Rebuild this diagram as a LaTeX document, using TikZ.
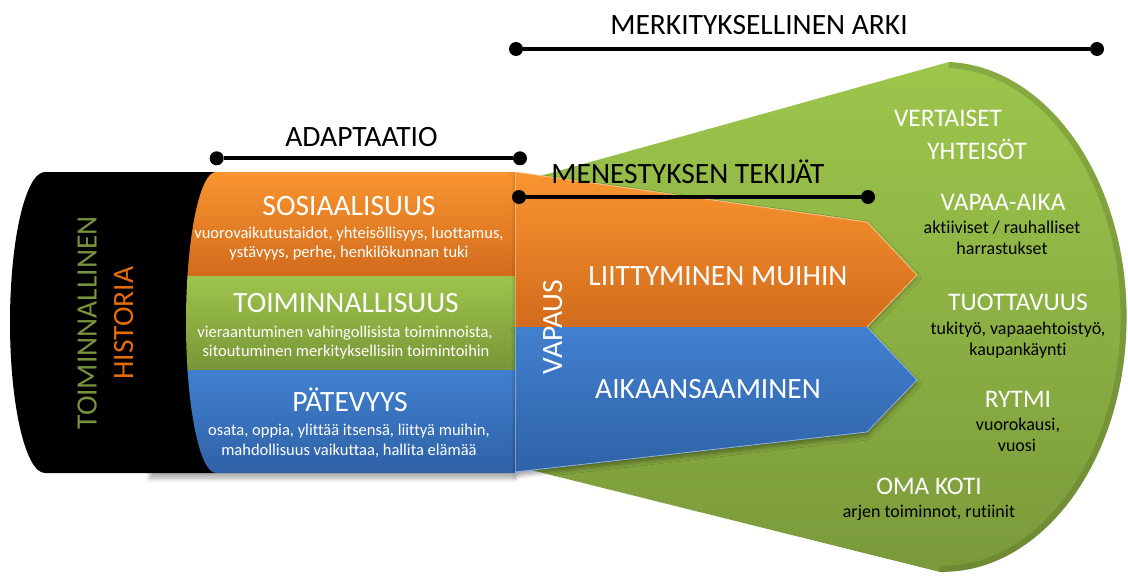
\documentclass[tikz,border=0pt]{standalone}
\usepackage{fontspec}
\setmainfont{Carlito}[RawFeature={-liga;-clig;-calt;-dlig}]
\usetikzlibrary{shadows.blur}
\definecolor{orgT}{HTML}{F99530}
\definecolor{orgB}{HTML}{D26B1C}
\definecolor{grnT}{HTML}{9EC54C}
\definecolor{grnB}{HTML}{789637}
\definecolor{bluT}{HTML}{4180CF}
\definecolor{bluB}{HTML}{2F62A6}
\definecolor{fanT}{HTML}{9DC64C}
\definecolor{fanB}{HTML}{7A9A3A}
\definecolor{histG}{HTML}{77933C}
\definecolor{histO}{HTML}{E46C0A}
\begin{document}
\begin{tikzpicture}[x=1pt,y=1pt,
  big/.style={text=white,font=\fontsize{29.5}{29.5}\selectfont,anchor=base,inner sep=0pt},
  small/.style={text=white,font=\fontsize{16.5}{16.5}\selectfont,anchor=base,inner sep=0pt},
  rlab/.style={text=white,font=\fontsize{25.3}{25.3}\selectfont,anchor=base,inner sep=0pt},
  rsub/.style={text=black,font=\fontsize{18}{18}\selectfont,anchor=base,inner sep=0pt},
  head/.style={text=black,font=\fontsize{29.5}{29.5}\selectfont,anchor=base,inner sep=0pt},
  bar/.style={line width=4pt,black},
  dot/.style={circle,fill=black,minimum size=14pt,inner sep=0pt},
]
\useasboundingbox (0,0) rectangle (1128,-578);
\def\fanpath{(515,-183) -- (949,-62) arc[start angle=88,end angle=-91,x radius=184,y radius=255] -- (515,-466) -- cycle}
% green fan
\shade[top color=fanT,bottom color=fanB] \fanpath;
\begin{scope}
  \clip \fanpath;
  \draw[line width=12pt,fanB!60!black,opacity=0.25] (949,-62) arc[start angle=88,end angle=-91,x radius=184,y radius=255];
\end{scope}
% shadow below band block
\path[blur shadow={shadow xshift=0pt,shadow yshift=-5pt,shadow blur radius=5pt,shadow opacity=35}] (150,-440) rectangle (515,-473);
% black history shape
\fill[black] (45,-172) -- (216,-172) -- (216,-473) -- (45,-473) arc[start angle=270,end angle=90,x radius=35,y radius=150.5] -- cycle;
% bands
\begin{scope}
  \clip (515,-172) -- (216,-172) arc[start angle=90,end angle=270,x radius=30,y radius=150.5] -- (515,-473) -- cycle;
  \shade[top color=orgT,bottom color=orgB] (180,-172) rectangle (515,-276);
  \shade[top color=grnT,bottom color=grnB] (180,-276) rectangle (515,-370);
  \shade[top color=bluT,bottom color=bluB] (180,-370) rectangle (515,-473);
\end{scope}
% arrows
\shade[top color=orgT,bottom color=orgB,blur shadow={shadow xshift=0pt,shadow yshift=-3pt,shadow blur radius=4pt,shadow opacity=25}] (515,-172) -- (867,-222) -- (917,-275) -- (867,-327) -- (515,-327) -- cycle;
\shade[top color=bluT,bottom color=bluB,blur shadow={shadow xshift=0pt,shadow yshift=-4pt,shadow blur radius=4pt,shadow opacity=35}] (515,-327) -- (867,-327) -- (917,-380) -- (867,-432) -- (515,-472) -- cycle;
\draw[orgT!60!white,line width=0.8pt] (515,-172) -- (867,-222) -- (917,-275) -- (867,-327);
\draw[bluT!60!white,line width=0.8pt] (867,-327) -- (917,-380) -- (867,-432) -- (515,-472);
\draw[white,opacity=0.35,line width=0.8pt] (515,-172) -- (515,-472);
% heading bars
\node[head] (merk) at (759,-35) {MERKITYKSELLINEN ARKI};
\node[dot] (m1) at (516,-49) {};
\node[dot] (m2) at (1097,-49) {};
\draw[bar] (m1) -- (m2);
\node[head] (adapt) at (361.5,-146.7) {ADAPTAATIO};
\node[dot] (a1) at (216.7,-158.3) {};
\node[dot] (a2) at (520,-158.3) {};
\draw[bar] (a1) -- (a2);
\node[head] (menes) at (688,-183) {MENESTYKSEN TEKIJÄT};
\node[dot] (t1) at (519,-197) {};
\node[dot] (t2) at (868,-197) {};
\draw[bar] (t1) -- (t2);
% history
\node[big,rotate=90,text=histG] (toim) at (96.5,-323) {TOIMINNALLINEN};
\node[big,rotate=90,text=histO] (hist) at (133,-323) {HISTORIA};
\node[head,rotate=90,text=white] (vapaus) at (562,-327) {VAPAUS};
% bands text
\node[big] (sos) at (349,-215) {SOSIAALISUUS};
\node[small] (sos1) at (349,-238) {vuorovaikutustaidot, yhteisöllisyys, luottamus,};
\node[small] (sos2) at (349,-257) {ystävyys, perhe, henkilökunnan tuki};
\node[big] (toi) at (346,-312) {TOIMINNALLISUUS};
\node[small] (toi1) at (345,-337) {vieraantuminen vahingollisista toiminnoista,};
\node[small] (toi2) at (346,-356) {sitoutuminen merkityksellisiin toimintoihin};
\node[big] (pat) at (350,-411) {PÄTEVYYS};
\node[small] (pat1) at (349,-435) {osata, oppia, ylittää itsensä, liittyä muihin,};
\node[small] (pat2) at (349,-455) {mahdollisuus vaikuttaa, hallita elämää};
% arrows text
\node[big] (liit) at (718,-285) {LIITTYMINEN MUIHIN};
\node[big] (aika) at (708,-398) {AIKAANSAAMINEN};
% right side
\node[rlab] (vert) at (948,-127) {VERTAISET};
\node[rlab] (yht) at (977,-159) {YHTEISÖT};
\node[rlab] (vap) at (1003,-210) {VAPAA-AIKA};
\node[rsub] (vap1) at (1002,-233) {aktiiviset / rauhalliset};
\node[rsub] (vap2) at (1002,-254) {harrastukset};
\node[rlab] (tuo) at (1018,-310) {TUOTTAVUUS};
\node[rsub] (tuo1) at (1018,-334) {tukityö, vapaaehtoistyö,};
\node[rsub] (tuo2) at (1018,-355) {kaupankäynti};
\node[rlab] (ryt) at (1018,-407) {RYTMI};
\node[rsub] (ryt1) at (1018,-430) {vuorokausi,};
\node[rsub] (ryt2) at (1017,-451) {vuosi};
\node[rlab] (oma) at (929,-494) {OMA KOTI};
\node[rsub] (oma1) at (929,-517) {arjen toiminnot, rutiinit};
\end{tikzpicture}
\end{document}
